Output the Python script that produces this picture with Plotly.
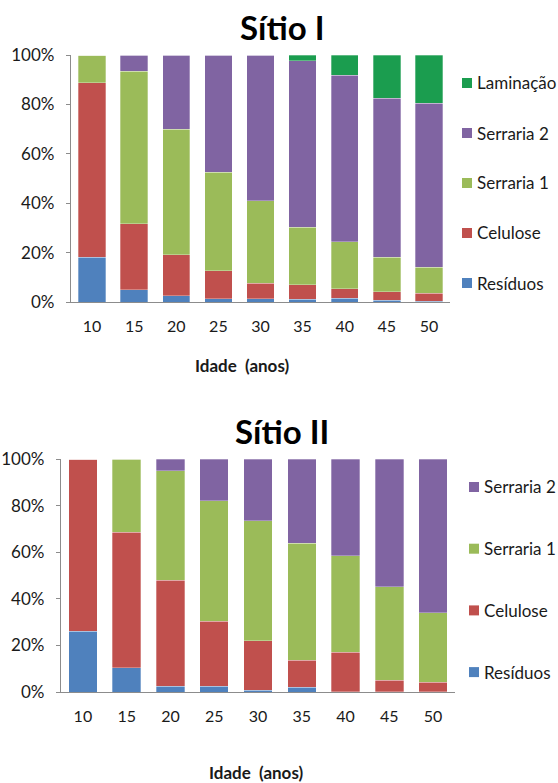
import plotly.graph_objects as go

W, H = 558, 783

ages = ["10", "15", "20", "25", "30", "35", "40", "45", "50"]

# Sítio I — share of each product (%), per age
s1_residuos = [18.1, 4.9, 2.6, 1.3, 1.3, 1.1, 1.5, 0.8, 0.3]
s1_celulose = [70.7, 26.8, 16.6, 11.4, 6.3, 5.9, 3.9, 3.4, 3.3]
s1_serraria1 = [11.2, 61.8, 50.7, 39.9, 33.4, 23.2, 19.0, 13.9, 10.4]
s1_serraria2 = [0.0, 6.5, 30.1, 47.4, 59.0, 67.4, 67.4, 64.4, 66.4]
s1_laminacao = [0.0, 0.0, 0.0, 0.0, 0.0, 2.4, 8.2, 17.5, 19.6]

# Sítio II — share of each product (%), per age
s2_residuos = [26.1, 10.4, 2.4, 2.4, 0.7, 2.0, 0.2, 0.2, 0.1]
s2_celulose = [73.9, 58.2, 45.5, 28.0, 21.2, 11.6, 16.9, 4.8, 4.0]
s2_serraria1 = [0.0, 31.4, 47.0, 51.6, 51.7, 50.3, 41.3, 40.1, 29.9]
s2_serraria2 = [0.0, 0.0, 5.1, 18.0, 26.4, 36.1, 41.6, 54.9, 66.0]

y_ticks = [0, 20, 40, 60, 80, 100]
y_tick_labels = ["0%", "20%", "40%", "60%", "80%", "100%"]

colors = {
    "Resíduos": "#4f81bd",
    "Celulose": "#c0504d",
    "Serraria 1": "#9bbb59",
    "Serraria 2": "#8064a2",
    "Laminação": "#1b9d4f",
}

FONT = "Lato, 'Open Sans', sans-serif"
AXIS_GRAY = "#8c8c8c"
TEXT = "#1a1a1a"


def px_x(p):
    return p / W


def px_y(p):
    return 1 - p / H


fig = go.Figure()

site1 = [("Resíduos", s1_residuos), ("Celulose", s1_celulose),
         ("Serraria 1", s1_serraria1), ("Serraria 2", s1_serraria2),
         ("Laminação", s1_laminacao)]
site2 = [("Resíduos", s2_residuos), ("Celulose", s2_celulose),
         ("Serraria 1", s2_serraria1), ("Serraria 2", s2_serraria2)]

for name, vals in site1:
    fig.add_trace(go.Bar(x=ages, y=vals, name=name, marker_color=colors[name],
                         marker_line_width=0.6, marker_line_color="rgba(255,255,255,0.5)",
                         xaxis="x", yaxis="y", showlegend=False))
for name, vals in site2:
    fig.add_trace(go.Bar(x=ages, y=vals, name=name, marker_color=colors[name],
                         marker_line_width=0.6, marker_line_color="rgba(255,255,255,0.5)",
                         xaxis="x2", yaxis="y2", showlegend=False))

xcommon = dict(type="category", showline=True, linecolor=AXIS_GRAY, linewidth=1.3,
               ticks="", showgrid=False, zeroline=False, automargin=False,
               tickfont=dict(family=FONT, size=16, color=TEXT),
               ticklabelstandoff=10)
ycommon = dict(range=[0, 100], tickmode="array", tickvals=y_ticks, ticktext=y_tick_labels,
               showline=True, linecolor=AXIS_GRAY, linewidth=1.3, ticks="outside",
               ticklen=4, tickcolor=AXIS_GRAY, showgrid=False, zeroline=False,
               automargin=False, tickfont=dict(family=FONT, size=17, color=TEXT),
               ticklabelstandoff=8)

fig.update_layout(
    width=W, height=H,
    margin=dict(l=0, r=0, t=0, b=0, pad=0, autoexpand=False),
    paper_bgcolor="white", plot_bgcolor="white",
    barmode="stack",
    bargap=0.35,
    xaxis=dict(domain=[px_x(71), px_x(450)], anchor="y", **xcommon),
    yaxis=dict(domain=[px_y(302), px_y(55)], anchor="x", **ycommon),
    xaxis2=dict(domain=[px_x(61), px_x(455)], anchor="y2", **xcommon),
    yaxis2=dict(domain=[px_y(692), px_y(459)], anchor="x2", **ycommon),
)


def label(text, x, y, size, xanchor="center"):
    return dict(text=text, x=px_x(x), y=px_y(y), xref="paper", yref="paper",
                xanchor=xanchor, yanchor="middle", showarrow=False,
                font=dict(family=FONT, size=size, color="black" if size > 20 else TEXT))


annotations = [
    label("<b>Sítio I</b>", 282, 27, 33),
    label("<b>Sítio II</b>", 282, 431, 33),
    label("<b>Idade  (anos)</b>", 242, 365, 17),
    label("<b>Idade  (anos)</b>", 256, 772, 17),
]

shapes = []

# Legend for Sítio I (top entry first)
leg1 = ["Laminação", "Serraria 2", "Serraria 1", "Celulose", "Resíduos"]
for i, name in enumerate(leg1):
    yc = 83 + 50 * i
    shapes.append(dict(type="rect", xref="paper", yref="paper",
                       x0=px_x(462), x1=px_x(472), y0=px_y(yc + 5), y1=px_y(yc - 5),
                       fillcolor=colors[name], line_width=0))
    annotations.append(label(name, 475, yc, 17, xanchor="left"))

# Legend for Sítio II
leg2 = ["Serraria 2", "Serraria 1", "Celulose", "Resíduos"]
for i, name in enumerate(leg2):
    yc = 487 + 61.7 * i
    shapes.append(dict(type="rect", xref="paper", yref="paper",
                       x0=px_x(469), x1=px_x(479), y0=px_y(yc + 5), y1=px_y(yc - 5),
                       fillcolor=colors[name], line_width=0))
    annotations.append(label(name, 482, yc, 17, xanchor="left"))

fig.update_layout(annotations=annotations, shapes=shapes)

fig.write_html("out.html")
